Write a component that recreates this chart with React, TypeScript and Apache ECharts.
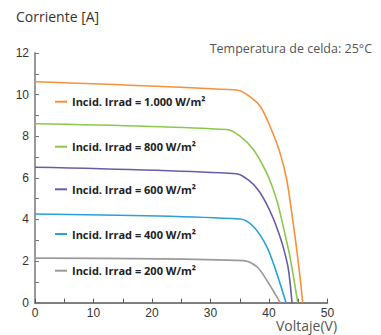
import React, { useEffect, useRef } from "react";
import * as echarts from "echarts";

const seriesNames = [
  "Incid. Irrad = 1.000 W/m²",
  "Incid. Irrad = 800 W/m²",
  "Incid. Irrad = 600 W/m²",
  "Incid. Irrad = 400 W/m²",
  "Incid. Irrad = 200 W/m²",
];
const seriesColors = ["#F7903A", "#8CC84B", "#6A5BAA", "#28A0DA", "#9A9A9A"];

const irr1000: [number, number][] = [
  [0, 10.62], [34.48, 10.22], [36.19, 10.01], [38.46, 9.45], [40.17, 8.48],
  [41.88, 7.2], [43.03, 5.91], [43.93, 4.23], [44.96, 2.06], [45.76, 0],
];
const irr800: [number, number][] = [
  [0, 8.6], [32.77, 8.32], [35.04, 8.0], [37.32, 7.36], [39.32, 6.4],
  [40.51, 5.62], [41.54, 4.71], [42.56, 3.5], [43.59, 2.2], [44.91, 0],
];
const irr600: [number, number][] = [
  [0, 6.51], [34.48, 6.2], [36.41, 5.91], [38.12, 5.43], [39.49, 4.8],
  [40.68, 4.08], [41.71, 3.31], [42.56, 2.54], [43.33, 1.58], [43.93, 0],
];
const irr400: [number, number][] = [
  [0, 4.26], [35.04, 4.02], [37.32, 3.66], [39.61, 2.7], [41.32, 1.42], [42.91, 0],
];
const irr200: [number, number][] = [
  [0, 2.14], [35.6, 2.02], [37.9, 1.73], [39.6, 1.09], [41.9, 0],
];
const seriesData = [irr1000, irr800, irr600, irr400, irr200];
const legendCenters = [101.7, 146.7, 189.3, 234, 270.7];

const yTitle = "Corriente [A]";
const xTitle = "Voltaje(V)";
const note = "Temperatura de celda: 25°C";

export default function App() {
  const ref = useRef<HTMLDivElement>(null);
  useEffect(() => {
    if (!ref.current) return;
    const chart = echarts.init(ref.current, undefined, { renderer: "svg" });
    chart.setOption({
      animation: false,
      grid: { left: 35, right: 53.5, top: 53, bottom: 32.3 },
      xAxis: {
        type: "value",
        min: 0,
        max: 50,
        interval: 10,
        axisLine: { lineStyle: { color: "#555", width: 1.5 } },
        axisTick: { inside: true, length: 4, lineStyle: { color: "#555" } },
        minorTick: { show: true, splitNumber: 2, length: 4, lineStyle: { color: "#555" } },
        splitLine: { show: false },
        axisLabel: { color: "#333", fontSize: 12, fontFamily: "Liberation Sans, Arial", margin: 4 },
      },
      yAxis: {
        type: "value",
        min: 0,
        max: 12,
        interval: 2,
        axisLine: { show: true, lineStyle: { color: "#999", width: 2 } },
        axisTick: { show: true, inside: true, length: 4, lineStyle: { color: "#777" } },
        minorTick: { show: true, splitNumber: 2, length: 4, lineStyle: { color: "#777" } },
        splitLine: { show: false },
        axisLabel: { color: "#333", fontSize: 12, fontFamily: "Liberation Sans, Arial", margin: 6 },
      },
      legend: seriesNames.map((n, i) => ({
        data: [n],
        left: 55,
        top: legendCenters[i] - 7,
        padding: 0,
        icon: "rect",
        itemWidth: 12,
        itemHeight: 2,
        itemGap: 4,
        selectedMode: false,
        textStyle: {
          color: "#222",
          fontSize: 11,
          fontWeight: "bold",
          fontFamily: "Liberation Sans Narrow, Open Sans",
          lineHeight: 14,
        },
      })),
      graphic: [
        {
          type: "text",
          left: 16,
          top: 9,
          style: { text: yTitle, fontSize: 14, fontFamily: "Open Sans", fill: "#333" },
        },
        {
          type: "text",
          right: 9,
          top: 42,
          style: { text: note, fontSize: 12.5, fontFamily: "Open Sans", fill: "#555" },
        },
        {
          type: "text",
          left: 276,
          top: 318,
          style: { text: xTitle, fontSize: 14, fontFamily: "Open Sans", fill: "#555" },
        },
        {
          type: "text",
          right: 42,
          top: -16,
          style: { text: "y (A)", fontSize: 14, fontFamily: "Open Sans", fill: "#777" },
        },
      ],
      series: seriesNames.map((n, i) => ({
        name: n,
        type: "line",
        data: seriesData[i],
        smooth: 0.3,
        showSymbol: false,
        symbol: "none",
        lineStyle: { color: seriesColors[i], width: 1.6 },
        itemStyle: { color: seriesColors[i] },
      })),
    });
    return () => chart.dispose();
  }, []);
  return <div ref={ref} style={{ width: 381, height: 335, marginLeft: -8, marginTop: -8 }} />;
}
